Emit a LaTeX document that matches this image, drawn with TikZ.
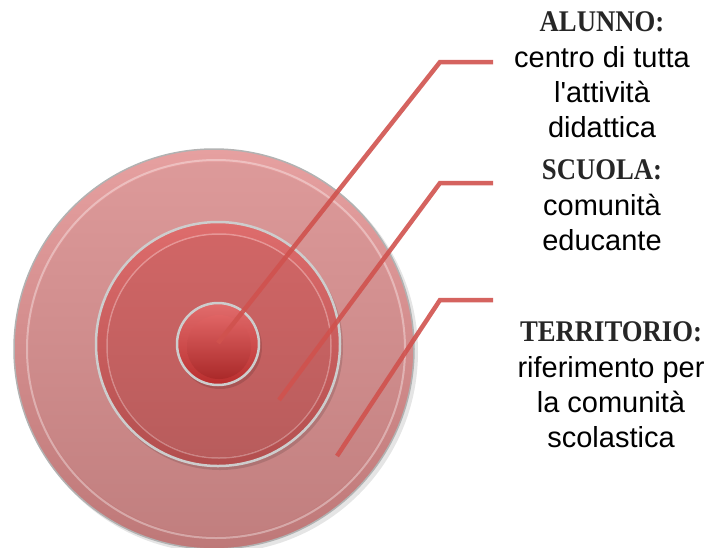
\documentclass[tikz,border=0pt]{standalone}
\usepackage{fontspec}
\setmainfont{Liberation Sans}
\newfontfamily\titlefont{Liberation Serif}
\definecolor{leader}{RGB}{208,82,78}
\definecolor{outerTop}{RGB}{230,160,160}
\definecolor{outerBot}{RGB}{190,120,120}
\definecolor{midTop}{RGB}{222,108,108}
\definecolor{midBot}{RGB}{178,78,78}
\definecolor{innTop}{RGB}{222,92,92}
\definecolor{innBot}{RGB}{185,45,45}
\definecolor{rim}{RGB}{205,205,205}
\begin{document}
\begin{tikzpicture}[x=1pt,y=-1pt,
  leaderline/.style={draw=leader,line width=4.5pt,opacity=0.9},
  silver/.style={draw=rim,line width=2.5pt},
  titletext/.style={font=\titlefont\bfseries\fontsize{30}{34}\selectfont,inner sep=0pt,text=black!85},
  bodytext/.style={font=\fontsize{29}{35}\selectfont,align=center,inner sep=0pt}]
\useasboundingbox (0,0) rectangle (709,547);
% shadow
\fill[black,opacity=0.10] (217,352) circle[radius=201];
% outer disk
\shade[top color=outerTop,bottom color=outerBot] (214,349) circle[radius=200];
\draw[draw=gray!60,line width=1.5pt] (214,349) circle[radius=200];
\draw[draw=white,opacity=0.35,line width=2pt] (216,349) circle[radius=189];
\shade[top color=outerTop!96!black,bottom color=outerBot!95!white] (216,349) circle[radius=187];
% middle disk
\fill[black,opacity=0.12] (220,347) circle[radius=123];
\shade[top color=midTop,bottom color=midBot] (218,344) circle[radius=122];
\draw[silver] (218,344) circle[radius=122];
\draw[draw=white,opacity=0.3,line width=1.5pt] (219,346) circle[radius=112];
\shade[top color=midTop!94!black,bottom color=midBot!92!white] (219,346) circle[radius=111];
% inner disk
\fill[black,opacity=0.12] (220,347) circle[radius=42];
\shade[top color=innTop!90!white,bottom color=innBot] (218,344) circle[radius=41];
\draw[silver] (218,344) circle[radius=41];
\shade[top color=innTop!95!white,bottom color=innBot!92!black] (219,347) circle[radius=32];
% leader lines
\coordinate (p1) at (218,343);
\coordinate (k1) at (440,62);
\coordinate (e1) at (493,62);
\coordinate (p2) at (279,400);
\coordinate (k2) at (440,183);
\coordinate (e2) at (493,183);
\coordinate (p3) at (337,456);
\coordinate (k3) at (440,300);
\coordinate (e3) at (493,300);
\draw[leaderline] (p1) -- (k1) -- (e1);
\draw[leaderline] (p2) -- (k2) -- (e2);
\draw[leaderline] (p3) -- (k3) -- (e3);
% labels
\node[titletext] (t1) at (602,22) {\scalebox{0.89}[1]{ALUNNO:}};
\node[bodytext] (b1) at (602,92) {centro di tutta\\l\textquotesingle attività\\didattica};
\node[titletext] (t2) at (602,170) {\scalebox{0.89}[1]{SCUOLA:}};
\node[bodytext] (b2) at (602,222) {comunità\\educante};
\node[titletext] (t3) at (611,332) {\scalebox{0.89}[1]{TERRITORIO:}};
\node[bodytext] (b3) at (611,402) {riferimento per\\la comunità\\scolastica};
\end{tikzpicture}
\end{document}
